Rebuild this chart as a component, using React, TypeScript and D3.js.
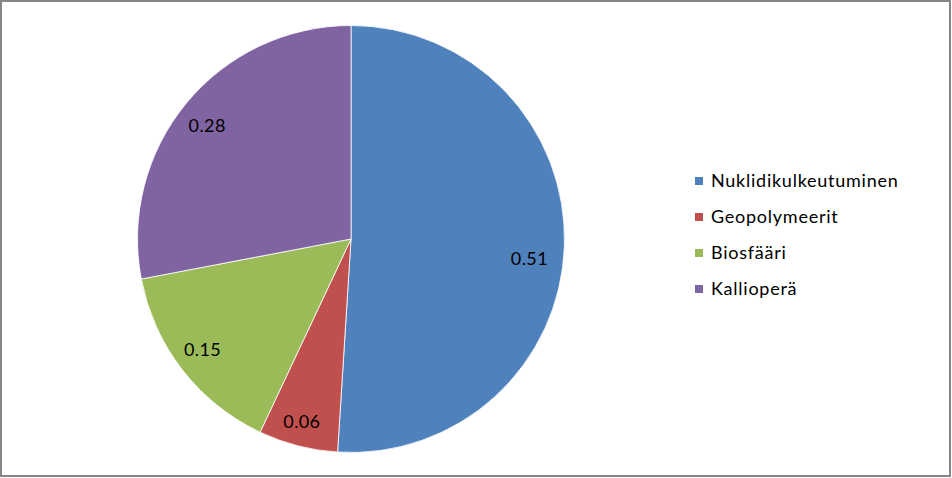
import React, { useEffect, useRef } from "react";
import * as d3 from "d3";

const categories = ["Nuklidikulkeutuminen", "Geopolymeerit", "Biosfääri", "Kallioperä"];
const values = [0.51, 0.06, 0.15, 0.28];
const colors = ["#4F81BD", "#C0504D", "#9BBB59", "#8064A2"];
// label nudges (layout only, px) to mimic Excel's "best fit" placement
const labelNudge: [number, number][] = [[-3, 14], [-4, 7], [-5, -1], [-4, 2]];

const W = 952;
const H = 478;
const FONT = "Lato, 'Open Sans', sans-serif";

export default function App() {
  const ref = useRef<SVGSVGElement>(null);
  useEffect(() => {
    const svg = d3.select(ref.current);
    svg.selectAll("*").remove();
    svg.append("rect").attr("x", 1).attr("y", 1).attr("width", W - 3).attr("height", H - 3)
      .attr("fill", "#fff").attr("stroke", "#868686").attr("stroke-width", 2);

    const cx = 351, cy = 239, r = 213.5;
    const data = categories.map((c, i) => ({ c, v: values[i], col: colors[i], n: labelNudge[i] }));
    const pie = d3.pie<any>().value((d: any) => d.v).sort(null);
    const arcs = pie(data);
    const arc = d3.arc<any>().innerRadius(0).outerRadius(r);
    const labelArc = d3.arc<any>().innerRadius(r * 0.85).outerRadius(r * 0.85);
    const g = svg.append("g").attr("transform", `translate(${cx},${cy})`);
    g.selectAll("path").data(arcs).enter().append("path")
      .attr("d", arc as any).attr("fill", (d: any) => d.data.col)
      .attr("stroke", "#fff").attr("stroke-width", 0.8);
    g.selectAll("text").data(arcs).enter().append("text")
      .attr("transform", (d: any) => {
        const [x, y] = labelArc.centroid(d);
        return `translate(${x + d.data.n[0]},${y + d.data.n[1]})`;
      })
      .attr("text-anchor", "middle").attr("dy", "0.35em")
      .attr("font-family", FONT).attr("font-size", 18).attr("letter-spacing", 0.4)
      .attr("fill", "#000").text((d: any) => d.data.v.toFixed(2));

    const lg = svg.append("g");
    const rowY = d3.scaleBand<string>().domain(categories).range([163, 307]);
    data.forEach((d) => {
      const y = (rowY(d.c) as number) + rowY.bandwidth() / 2;
      lg.append("rect").attr("x", 695).attr("y", y - 4).attr("width", 8).attr("height", 8).attr("fill", d.col);
      lg.append("text").attr("x", 711).attr("y", y).attr("dy", "0.35em")
        .attr("font-family", FONT).attr("font-size", 18).attr("letter-spacing", 0.75)
        .attr("fill", "#000").text(d.c);
    });
  }, []);
  return (
    <svg ref={ref} width={W} height={H} style={{ position: "absolute", left: 0, top: 0 }} />
  );
}
